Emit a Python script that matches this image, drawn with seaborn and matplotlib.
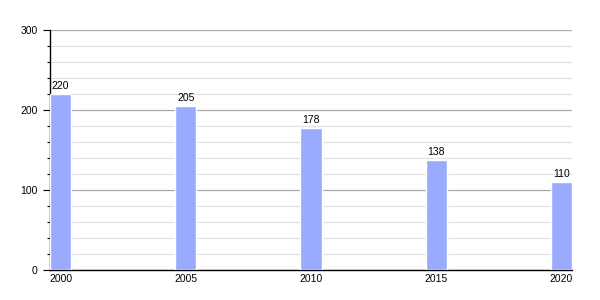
import matplotlib
matplotlib.use("Agg")
import matplotlib.pyplot as plt
from matplotlib.ticker import MultipleLocator
import seaborn as sns
import pandas as pd

years = ["2000", "2005", "2010", "2015", "2020"]
values = [220, 205, 178, 138, 110]

sns.set_theme(style="white")
plt.rcParams["font.family"] = ["Liberation Sans", "DejaVu Sans"]
plt.rcParams["text.color"] = "black"
plt.rcParams["xtick.color"] = "black"
plt.rcParams["ytick.color"] = "black"
plt.rcParams["xtick.labelcolor"] = "black"
plt.rcParams["ytick.labelcolor"] = "black"

df = pd.DataFrame({"year": years, "value": values})

fig = plt.figure(figsize=(6, 3), dpi=100)
ax = fig.add_axes([50/600, 0.1, 522/600, 0.8])

sns.barplot(data=df, x="year", y="value", color="#99aaff", saturation=1,
            width=0.168, ax=ax, zorder=3)

w = 0.168
ax.set_xlim(-w/2, len(years) - 1 + w/2)
ax.set_ylim(0, 300)
ax.yaxis.set_major_locator(MultipleLocator(100))
ax.yaxis.set_minor_locator(MultipleLocator(20))
ax.grid(which="major", axis="y", color="#aaaaaa", linewidth=0.9, zorder=0)
ax.grid(which="minor", axis="y", color="#e2e2e2", linewidth=0.9, zorder=0)
ax.set_axisbelow(True)

for s in ["top", "right"]:
    ax.spines[s].set_visible(False)
for s in ["left", "bottom"]:
    ax.spines[s].set_color("black")
    ax.spines[s].set_linewidth(1.0)

ax.tick_params(axis="y", which="major", length=5, width=0.8, color="black",
               labelcolor="black", labelsize=7.5, pad=4, left=True)
ax.tick_params(axis="y", which="minor", length=2.5, width=0.8, color="black", left=True)
ax.tick_params(axis="x", length=0, labelsize=7.5, pad=3, labelcolor="black")
ax.set_xlabel("")
ax.set_ylabel("")

for c in ax.containers:
    ax.bar_label(c, labels=[str(v) for v in values], fontsize=7.5, padding=2,
                 color="black")

fig.savefig("out.png", dpi=100)
